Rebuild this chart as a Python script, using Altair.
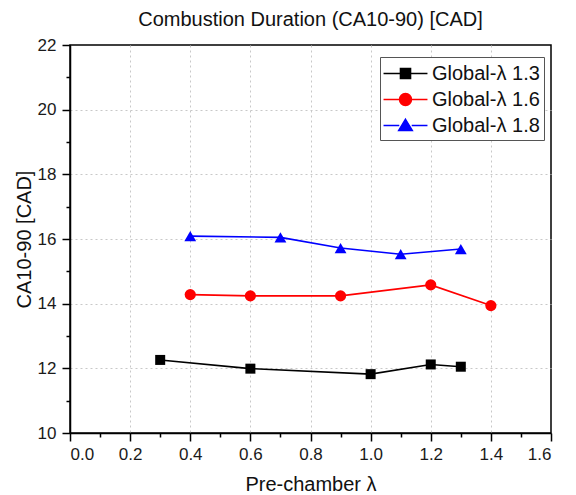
import altair as alt
import pandas as pd

series_names = ["Global-λ 1.3", "Global-λ 1.6", "Global-λ 1.8"]
colors = ["#000000", "#ff0000", "#0000ff"]
marker_shapes = ["square", "circle", "triangle-up"]
marker_sizes = [100, 125, 140]
legend_paths = [
    "M-1.87,0H-0.43M0.43,0H1.87M-0.43,-0.43H0.43V0.43H-0.43Z",
    "M-1.87,0H-0.51M0.51,0H1.87M-0.51,0A0.51,0.51 0 1 0 0.51,0A0.51,0.51 0 1 0 -0.51,0Z",
    "M-1.87,0H-0.53M0.53,0H1.87M0,-0.53L0.58,0.43H-0.58Z",
]

x_13 = [0.3, 0.6, 1.0, 1.2, 1.3]
y_13 = [12.26, 11.99, 11.82, 12.12, 12.05]
x_16 = [0.4, 0.6, 0.9, 1.2, 1.4]
y_16 = [14.28, 14.24, 14.24, 14.58, 13.94]
x_18 = [0.4, 0.7, 0.9, 1.1, 1.3]
y_18 = [16.09, 16.05, 15.72, 15.53, 15.69]

x_ticks = [round(i * 0.1, 1) for i in range(17)]
y_ticks = list(range(10, 23))

rows = []
for name, xs, ys in zip(series_names, [x_13, x_16, x_18], [y_13, y_16, y_18]):
    for xv, yv in zip(xs, ys):
        rows.append({"series": name, "x": xv, "y": yv})
df = pd.DataFrame(rows)

FONT = "Liberation Sans"

x_axis = alt.Axis(
    title="Pre-chamber λ",
    values=x_ticks,
    labelExpr="round(datum.value*10) % 2 === 0 ? format(datum.value, '.1f') : ''",
    tickSize={"condition": {"test": "round(datum.value*10) % 2 === 0", "value": 8}, "value": 4},
    gridOpacity={"condition": {"test": "round(datum.value*10) % 2 === 0 && datum.value > 0.05 && datum.value < 1.55", "value": 1}, "value": 0},
    labelPadding=5,
    titlePadding=12,
)
y_axis = alt.Axis(
    title="CA10-90 [CAD]",
    values=y_ticks,
    labelExpr="datum.value % 2 === 0 ? format(datum.value, 'd') : ''",
    tickSize={"condition": {"test": "datum.value % 2 === 0", "value": 8}, "value": 4},
    gridOpacity={"condition": {"test": "datum.value % 2 === 0 && datum.value > 10 && datum.value < 22", "value": 1}, "value": 0},
    labelPadding=6,
    titlePadding=3,
)

xenc = alt.X("x:Q", scale=alt.Scale(domain=[0, 1.6], nice=False, zero=False), axis=x_axis)
yenc = alt.Y("y:Q", scale=alt.Scale(domain=[10, 22], nice=False, zero=False), axis=y_axis)

base = alt.Chart(df)

layers = []
for name, col in zip(series_names, colors):
    layers.append(
        base.transform_filter(alt.datum.series == name)
        .mark_line(strokeWidth=1.6, color=col)
        .encode(x=xenc, y=yenc)
    )
for name, col, shp, sz in zip(series_names, colors, marker_shapes, marker_sizes):
    layers.append(
        base.transform_filter(alt.datum.series == name)
        .mark_point(filled=True, opacity=1, shape=shp, size=sz, color=col)
        .encode(x=xenc, y=yenc)
    )

legend_layer = base.mark_point(opacity=0, size=10, strokeWidth=1.5).encode(
    x=xenc, y=yenc,
    fill=alt.Fill("series:N", scale=alt.Scale(domain=series_names, range=colors),
                  legend=alt.Legend(title=None)),
    stroke=alt.Stroke("series:N", scale=alt.Scale(domain=series_names, range=colors),
                      legend=alt.Legend(title=None)),
    shape=alt.Shape("series:N", scale=alt.Scale(domain=series_names, range=legend_paths),
                    legend=alt.Legend(title=None)),
)
layers.append(legend_layer)

chart = alt.layer(*layers).properties(
    width=481,
    height=388,
    padding={"left": 70, "top": 45, "right": 25, "bottom": 62},
    autosize=alt.AutoSizeParams(type="none"),
    title=alt.TitleParams(
        "Combustion Duration (CA10-90) [CAD]",
        font=FONT, fontSize=20, fontWeight="normal", color="#111111",
        anchor="middle", offset=6,
    ),
).configure_view(
    stroke="#000000", strokeWidth=1.5
).configure_axis(
    labelFont=FONT, labelFontSize=17, labelColor="#1a1a1a",
    titleFont=FONT, titleFontSize=20, titleFontWeight="normal", titleColor="#111111",
    domainColor="#000000", domainWidth=1.5,
    tickColor="#000000", tickWidth=1.5,
    grid=True, gridColor="#c8c8c8", gridDash=[2, 3], gridWidth=1,
).configure_legend(
    orient="none", legendX=310, legendY=12,
    labelFont=FONT, labelFontSize=20, labelColor="#111111",
    symbolSize=552, symbolStrokeWidth=1.5, symbolOpacity=1,
    symbolOffset=9, labelOffset=14,
    strokeColor="#555555", strokeWidth=1, fillColor="#ffffff",
    padding=4, rowPadding=3,
)

chart.save("out.html", embed_options={"renderer": "svg", "actions": False})
